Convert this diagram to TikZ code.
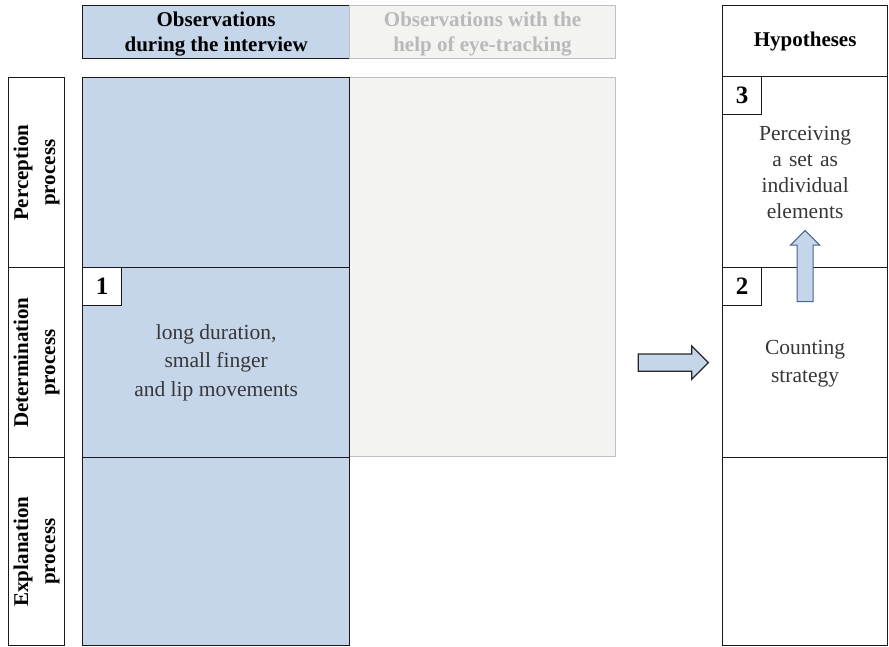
\documentclass[tikz,border=0pt]{standalone}
\usepackage{fontspec}
\setmainfont{Liberation Serif}
\usetikzlibrary{shapes.arrows,calc}

\definecolor{obsblue}{RGB}{197,213,234}
\definecolor{eyefill}{RGB}{243,243,242}
\definecolor{eyeline}{RGB}{192,192,192}
\definecolor{eyetext}{RGB}{185,185,185}
\definecolor{bodytext}{RGB}{55,55,55}
\definecolor{arrowline}{RGB}{70,100,145}

\tikzset{
  cell/.style={draw=black!90,line width=1.3pt,inner sep=0pt,anchor=north west,align=center},
  obscell/.style={cell,fill=obsblue},
  eyecell/.style={cell,draw=eyeline,line width=1pt,fill=eyefill},
  bodytxt/.style={align=center,text=bodytext,font=\fontsize{21.5pt}{28.5pt}\selectfont},
  headtxt/.style={align=center,font=\bfseries\fontsize{21pt}{25pt}\selectfont},
  sidetxt/.style={align=center,rotate=90,font=\bfseries\fontsize{21pt}{27pt}\selectfont},
  numbox/.style={cell,fill=white,minimum width=39pt,minimum height=38pt,font=\bfseries\fontsize{25pt}{28pt}\selectfont},
  blockarrow/.style={single arrow,draw=black!85,line width=1.3pt,fill=obsblue,
    single arrow head extend=8pt,inner sep=8pt,minimum height=70pt}
}

\begin{document}
\begin{tikzpicture}[x=1pt,y=-1pt]
  \useasboundingbox (0,0) rectangle (889,647);

  % Headers
  \node[obscell,minimum width=267pt,minimum height=53pt] (hObs) at (82,5) {};
  \node[headtxt] at ($(hObs)+(0,2)$) {Observations\\during the interview};
  \node[eyecell,minimum width=266pt,minimum height=53pt] (hEye) at (349,5) {};
  \node[headtxt,text=eyetext] at ($(hEye)+(0,2)$) {Observations with the\\help of eye-tracking};
  \node[cell,minimum width=165pt,minimum height=71pt] (hHyp) at (722,5) {};
  \node[headtxt] at (hHyp) {Hypotheses};

  % Eye-tracking column
  \node[eyecell,minimum width=266pt,minimum height=379pt] (eyeCol) at (349,77) {};

  % Interview column
  \node[obscell,minimum width=267pt,minimum height=190pt] (oPerc) at (82,77) {};
  \node[obscell,minimum width=267pt,minimum height=190pt] (oDet) at (82,267) {};
  \node[obscell,minimum width=267pt,minimum height=188pt] (oExpl) at (82,457) {};
  \node[bodytxt] at (oDet) {long duration,\\small finger\\and lip movements};
  \node[numbox] (n1) at (oDet.north west) {1};

  % Process labels
  \node[cell,minimum width=56pt,minimum height=190pt] (lPerc) at (8,77) {};
  \node[cell,minimum width=56pt,minimum height=190pt] (lDet) at (8,267) {};
  \node[cell,minimum width=56pt,minimum height=188pt] (lExpl) at (8,457) {};
  \node[sidetxt] at (lPerc) {Perception\\process};
  \node[sidetxt] at (lDet) {Determination\\process};
  \node[sidetxt] at (lExpl) {Explanation\\process};

  % Hypotheses column
  \node[cell,minimum width=165pt,minimum height=191pt] (yPerc) at (722,76) {};
  \node[cell,minimum width=165pt,minimum height=190pt] (yDet) at (722,267) {};
  \node[cell,minimum width=165pt,minimum height=188pt] (yExpl) at (722,457) {};
  \node[bodytxt,text width=130pt,font=\fontsize{21.5pt}{26pt}\selectfont] at (yPerc) {Perceiving\\a set as\\individual\\elements};
  \node[bodytxt] at ($(yDet)+(0,1)$) {Counting\\strategy};
  \node[numbox] (n3) at (yPerc.north west) {3};
  \node[numbox] (n2) at (yDet.north west) {2};

  % Arrows
  \node[blockarrow] (toHyp) at ($(eyeCol.east |- oDet.center)!0.5!(yDet.west)$) {};
  \node[blockarrow,draw=arrowline,line width=1pt,rotate=90,inner sep=7.5pt,
    single arrow head extend=6.5pt,minimum height=71pt] (upHyp) at ($(yDet.north)+(0,3)$) {};
\end{tikzpicture}
\end{document}
